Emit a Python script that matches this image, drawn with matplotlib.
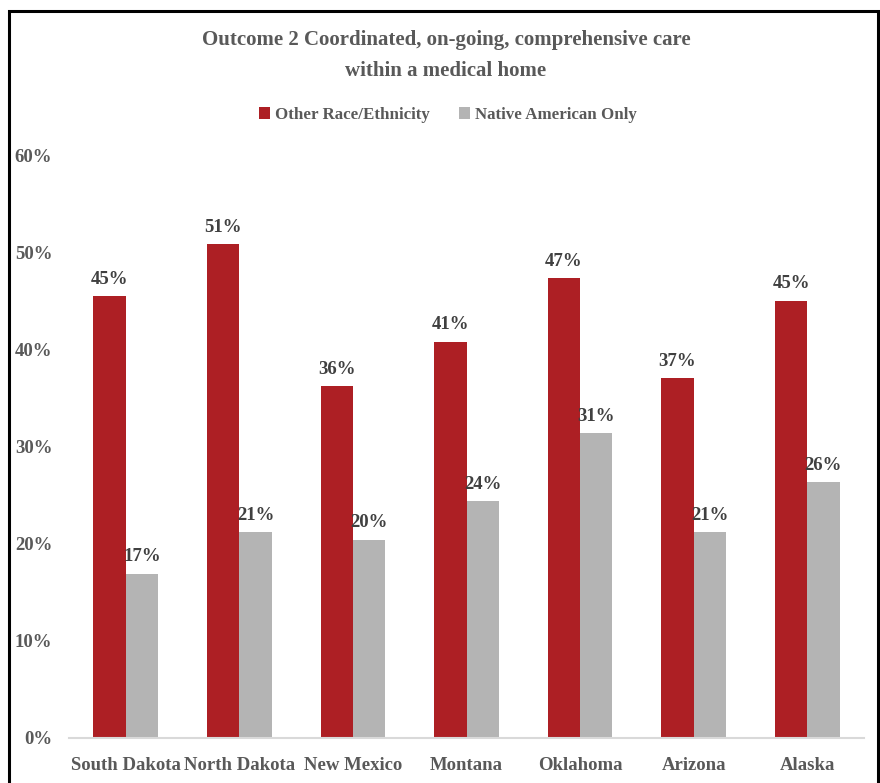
import matplotlib
matplotlib.use("Agg")
import matplotlib.pyplot as plt
import numpy as np
from matplotlib.patches import Rectangle

categories = ["South Dakota", "North Dakota", "New Mexico", "Montana", "Oklahoma", "Arizona", "Alaska"]
other_race = [45.5, 50.8, 36.2, 40.8, 47.3, 37.0, 45.0]
native_american = [16.9, 21.2, 20.4, 24.4, 31.4, 21.2, 26.3]
other_labels = ["45%", "51%", "36%", "41%", "47%", "37%", "45%"]
native_labels = ["17%", "21%", "20%", "24%", "31%", "21%", "26%"]
yticks = [0, 10, 20, 30, 40, 50, 60]
ytick_labels = ["0%", "10%", "20%", "30%", "40%", "50%", "60%"]
series_names = ["Other Race/Ethnicity", "Native American Only"]

RED = "#AD1F24"
GRAY = "#B4B4B4"
TXT = "#595959"
LBL = "#404040"
FONT = "Liberation Serif"

W, H = 880, 783
fig = plt.figure(figsize=(W / 100, H / 100), dpi=100)
fig.patch.set_facecolor("white")

ax = fig.add_axes([69 / W, 1 - 738 / H, (864 - 69) / W, (738 - 155) / H])
x = np.arange(len(categories))
bw = 0.285
b1 = ax.bar(x - bw / 2, other_race, bw, color=RED, label=series_names[0])
b2 = ax.bar(x + bw / 2, native_american, bw, color=GRAY, label=series_names[1])

for rect, lab in zip(b1, other_labels):
    ax.annotate(lab, (rect.get_x() + rect.get_width() / 2, rect.get_height()),
                xytext=(0, 6), textcoords="offset points", ha="center", va="bottom",
                fontsize=13.5, fontweight="bold", color=LBL, family=FONT)
for rect, lab in zip(b2, native_labels):
    ax.annotate(lab, (rect.get_x() + rect.get_width() / 2, rect.get_height()),
                xytext=(0, 6), textcoords="offset points", ha="center", va="bottom",
                fontsize=13.5, fontweight="bold", color=LBL, family=FONT)

ax.set_xlim(-0.5, len(categories) - 0.5)
ax.set_ylim(0, 60)
ax.set_yticks(yticks)
ax.set_yticklabels(ytick_labels, fontsize=13.5, fontweight="bold", color=TXT, family=FONT)
ax.set_xticks(x)
ax.set_xticklabels(categories, fontsize=13.5, fontweight="bold", color=TXT, family=FONT)
ax.tick_params(axis="y", length=0, pad=12)
ax.tick_params(axis="x", length=0, pad=14)
for s in ["top", "right", "left"]:
    ax.spines[s].set_visible(False)
ax.spines["bottom"].set_color("#D9D9D9")
ax.spines["bottom"].set_linewidth(1.5)

fig.text(446 / W, 1 - 40 / H, "Outcome 2 Coordinated, on-going, comprehensive care",
         ha="center", va="center", fontsize=15, fontweight="bold", color=TXT, family=FONT)
fig.text(446 / W, 1 - 71 / H, "within a medical home",
         ha="center", va="center", fontsize=15, fontweight="bold", color=TXT, family=FONT)

leg = fig.legend(handles=[b1, b2], labels=series_names, loc="center",
                 bbox_to_anchor=(448 / W, 1 - 115 / H), ncol=2, frameon=False,
                 prop={"family": FONT, "weight": "bold", "size": 12.2},
                 handlelength=0.65, handleheight=0.65, handletextpad=0.3, columnspacing=1.7)
for t in leg.get_texts():
    t.set_color(TXT)

fig.patches.append(Rectangle((9 / W, -0.1), (878 - 9) / W, 1.1 - 11 / H, transform=fig.transFigure,
                             fill=False, edgecolor="black", linewidth=2.2, zorder=10))

fig.savefig("out.png", dpi=100, facecolor="white")
